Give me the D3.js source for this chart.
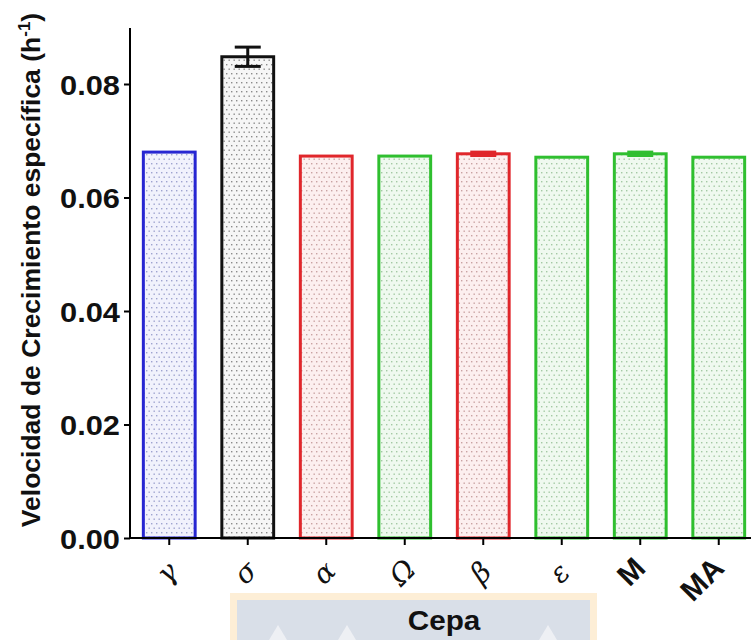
<!DOCTYPE html>
<html>
<head>
<meta charset="utf-8">
<script src="https://cdn.jsdelivr.net/npm/d3@7"></script>
<style>
  html, body { margin: 0; padding: 0; background: #ffffff; }
  svg { display: block; }
</style>
</head>
<body>
<svg id="chart" width="751" height="640"></svg>
<script>
// Strains, growth rates and their standard deviations
const strains = ["γ", "σ", "α", "Ω", "β", "ε", "M", "MA"];
const rates = [0.0680, 0.0848, 0.0673, 0.0673, 0.0677, 0.0671, 0.0677, 0.0671];
const errors = [0.0000, 0.0017, 0.0000, 0.0000, 0.0003, 0.0000, 0.0003, 0.0000];
const groups = ["blue", "black", "red", "green", "red", "green", "green", "green"];
const yTicks = [0.00, 0.02, 0.04, 0.06, 0.08];

const palette = {
  blue:  { stroke: "#2626d2", bg: "#f1f2fc", dot: "#9ea3cf" },
  black: { stroke: "#111111", bg: "#f6f6f6", dot: "#8a8a8a" },
  red:   { stroke: "#e0262b", bg: "#fcefef", dot: "#c9a2a2" },
  green: { stroke: "#2fbf2f", bg: "#eff9ef", dot: "#a3c9a3" }
};

const sans = "Liberation Sans, Arial, sans-serif";
const isLatin = (d) => d === "M" || d === "MA";

const svg = d3.select("#chart");
const plotLeft = 130, plotRight = 758, plotTop = 28, plotBottom = 538;

const x = d3.scaleBand().domain(strains).range([plotLeft, plotRight]).paddingInner(0.34).paddingOuter(0.17);
const y = d3.scaleLinear().domain([0, 0.08]).range([plotBottom, 84]);

// Stippled fill patterns, one per colour group
const defs = svg.append("defs");
Object.entries(palette).forEach(([key, c]) => {
  const p = defs.append("pattern")
    .attr("id", "dots-" + key)
    .attr("patternUnits", "userSpaceOnUse")
    .attr("width", 5).attr("height", 9);
  p.append("rect").attr("width", 5).attr("height", 9).attr("fill", c.bg);
  p.append("rect").attr("x", 1).attr("y", 1).attr("width", 1.4).attr("height", 1.4).attr("fill", c.dot);
  p.append("rect").attr("x", 3.5).attr("y", 5.5).attr("width", 1.4).attr("height", 1.4).attr("fill", c.dot);
});

// Bars
svg.append("g").selectAll("rect")
  .data(strains)
  .join("rect")
  .attr("x", (d) => x(d))
  .attr("y", (d, i) => y(rates[i]))
  .attr("width", x.bandwidth())
  .attr("height", (d, i) => y(0) - y(rates[i]))
  .attr("fill", (d, i) => `url(#dots-${groups[i]})`)
  .attr("stroke", (d, i) => palette[groups[i]].stroke)
  .attr("stroke-width", 3);

// Error bars
const capW = 26;
const eg = svg.append("g");
strains.forEach((d, i) => {
  if (!errors[i]) return;
  const cx = x(d) + x.bandwidth() / 2;
  const col = palette[groups[i]].stroke;
  const y1 = y(rates[i] + errors[i]), y2 = y(rates[i] - errors[i]);
  eg.append("line").attr("x1", cx).attr("x2", cx).attr("y1", y1).attr("y2", y2)
    .attr("stroke", col).attr("stroke-width", 3);
  [y1, y2].forEach((yy) => {
    eg.append("line").attr("x1", cx - capW / 2).attr("x2", cx + capW / 2)
      .attr("y1", yy).attr("y2", yy).attr("stroke", col).attr("stroke-width", 3);
  });
});

// Y axis
const yAxis = svg.append("g")
  .attr("transform", `translate(${plotLeft},0)`)
  .call(d3.axisLeft(y).tickValues(yTicks).tickFormat(d3.format(".2f")).tickSize(6).tickSizeOuter(0));
yAxis.select(".domain").remove();
yAxis.append("line").attr("x1", 0).attr("x2", 0).attr("y1", plotTop).attr("y2", plotBottom + 1)
  .attr("stroke", "#000").attr("stroke-width", 2);
yAxis.selectAll(".tick line").attr("stroke", "#000").attr("stroke-width", 2);
yAxis.selectAll(".tick text")
  .attr("x", 0).attr("dy", "0.36em")
  .attr("transform", "translate(-10,0) scale(1.1,1)")
  .attr("font-family", sans)
  .attr("font-weight", "bold")
  .attr("font-size", 28)
  .attr("fill", "#111");

// X axis
const xAxis = svg.append("g")
  .attr("transform", `translate(0,${plotBottom})`)
  .call(d3.axisBottom(x).tickSize(7).tickSizeOuter(0));
xAxis.select(".domain").remove();
xAxis.append("line").attr("x1", plotLeft - 1).attr("x2", 751).attr("y1", 0).attr("y2", 0)
  .attr("stroke", "#000").attr("stroke-width", 2);
xAxis.selectAll(".tick line").attr("stroke", "#000").attr("stroke-width", 2);
xAxis.selectAll(".tick text")
  .attr("y", 0)
  .attr("dy", (d) => isLatin(d) ? "0" : "0.32em")
  .attr("text-anchor", (d) => isLatin(d) ? "end" : "middle")
  .attr("transform", (d) => isLatin(d) ? "translate(7,32) rotate(-45)" : "translate(-2,35) rotate(-45)")
  .attr("font-family", (d) => isLatin(d) ? sans : "DejaVu Serif, serif")
  .attr("font-style", (d) => isLatin(d) ? "normal" : "italic")
  .attr("font-weight", (d) => isLatin(d) ? "bold" : "normal")
  .attr("font-size", (d) => isLatin(d) ? 30 : 28)
  .attr("fill", "#111");

// Y axis title
const yTitle = svg.append("text")
  .attr("transform", "translate(40,270) rotate(-90)")
  .attr("text-anchor", "middle")
  .attr("font-family", sans)
  .attr("font-weight", "bold")
  .attr("font-size", 26.5)
  .attr("fill", "#111");
yTitle.append("tspan").text("Velocidad de Crecimiento específica (h");
yTitle.append("tspan").attr("dy", -10).attr("font-size", 17).text("-1");
yTitle.append("tspan").attr("dy", 10).text(")");

// Banner behind the x axis title
const banner = svg.append("g");
banner.append("rect").attr("x", 230).attr("y", 593).attr("width", 367).attr("height", 47).attr("fill", "#fdeed6");
banner.append("rect").attr("x", 237).attr("y", 600).attr("width", 353).attr("height", 40).attr("fill", "#d9dfe8");
[[278, 625], [347, 625], [548, 625]].forEach(([cx, ty]) => {
  banner.append("path")
    .attr("d", `M${cx},${ty} L${cx - 9},640 L${cx + 9},640 Z`)
    .attr("fill", "#eef0f4");
});

// X axis title
svg.append("text")
  .attr("transform", "translate(444,630) scale(1.1,1)")
  .attr("text-anchor", "middle")
  .attr("font-family", sans)
  .attr("font-weight", "bold")
  .attr("font-size", 27)
  .attr("fill", "#111")
  .text("Cepa");
</script>
</body>
</html>
